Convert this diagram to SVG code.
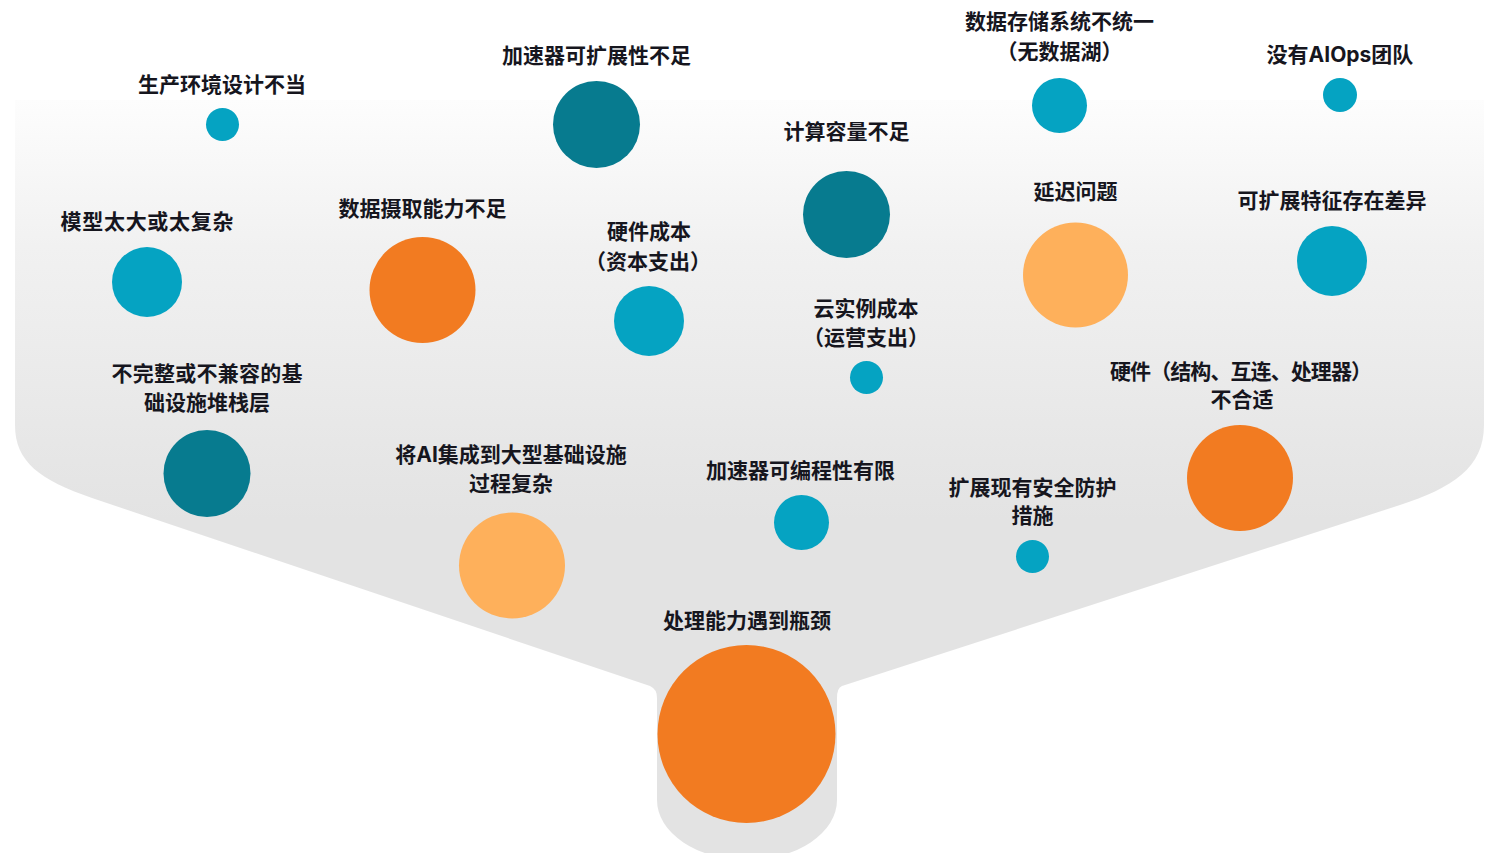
<svg xmlns="http://www.w3.org/2000/svg" width="1492" height="853" viewBox="0 0 1492 853">
  <defs>
    <linearGradient id="funnelGrad" gradientUnits="userSpaceOnUse" x1="0" y1="100" x2="0" y2="520">
      <stop offset="0" stop-color="#fdfdfd"/>
      <stop offset="0.35" stop-color="#f1f1f1"/>
      <stop offset="1" stop-color="#e3e3e3"/>
    </linearGradient>
    <style>
      .lbl { font-family: Inter, "Noto Sans CJK SC", sans-serif; font-weight: 700; font-size: 21px; fill: #16161e; text-anchor: middle; }
      .teal { fill: #05a3c2; }
      .dteal { fill: #077b8f; }
      .orange { fill: #f27b21; }
      .lorange { fill: #feb05b; }
    </style>
  </defs>
  <rect width="1492" height="853" fill="#ffffff"/>
  <g id="funnel">
    <path d="M 15 100 H 1484 V 425 C 1484 468 1452 488 1400 505 L 842 686 Q 837 688 837 698 V 800 A 90 60 0 0 1 657 800 V 698 Q 657 689 650 686 L 92 498 C 40 480 15 462 15 425 Z" fill="url(#funnelGrad)"/>
  </g>
  <g id="connectors"/>
  <g id="n1">
    <text class="lbl" x="222" y="92">生产环境设计不当</text>
    <circle class="teal" cx="222.5" cy="124.5" r="16.5"/>
  </g>
  <g id="n2">
    <text class="lbl" x="596.5" y="63">加速器可扩展性不足</text>
    <circle class="dteal" cx="596.5" cy="124.5" r="43.5"/>
  </g>
  <g id="n3">
    <text class="lbl" x="1059.5" y="29">数据存储系统不统一</text>
    <text class="lbl" x="1059.5" y="59">（无数据湖）</text>
    <circle class="teal" cx="1059.5" cy="105.5" r="27.5"/>
  </g>
  <g id="n4">
    <text class="lbl" x="1340" y="62">没有AIOps团队</text>
    <circle class="teal" cx="1340" cy="95" r="17"/>
  </g>
  <g id="n5">
    <text class="lbl" x="846.5" y="139">计算容量不足</text>
    <circle class="dteal" cx="846.5" cy="214.5" r="43.5"/>
  </g>
  <g id="n6">
    <text class="lbl" x="147" y="229" textLength="173" lengthAdjust="spacing">模型太大或太复杂</text>
    <circle class="teal" cx="147" cy="282" r="35"/>
  </g>
  <g id="n7">
    <text class="lbl" x="422.5" y="216">数据摄取能力不足</text>
    <circle class="orange" cx="422.5" cy="290" r="53"/>
  </g>
  <g id="n8">
    <text class="lbl" x="649" y="239">硬件成本</text>
    <text class="lbl" x="648" y="269">（资本支出）</text>
    <circle class="teal" cx="649" cy="321" r="35"/>
  </g>
  <g id="n9">
    <text class="lbl" x="1075.5" y="199">延迟问题</text>
    <circle class="lorange" cx="1075.5" cy="275" r="52.5"/>
  </g>
  <g id="n10">
    <text class="lbl" x="1332" y="208">可扩展特征存在差异</text>
    <circle class="teal" cx="1332" cy="261" r="35"/>
  </g>
  <g id="n11">
    <text class="lbl" x="866" y="316">云实例成本</text>
    <text class="lbl" x="866" y="345">（运营支出）</text>
    <circle class="teal" cx="866.5" cy="377.5" r="16.5"/>
  </g>
  <g id="n12">
    <text class="lbl" x="207" y="381" textLength="191" lengthAdjust="spacing">不完整或不兼容的基</text>
    <text class="lbl" x="207" y="410">础设施堆栈层</text>
    <circle class="dteal" cx="207" cy="473.5" r="43.5"/>
  </g>
  <g id="n13">
    <text class="lbl" x="1241" y="379" textLength="262" lengthAdjust="spacing">硬件（结构、互连、处理器）</text>
    <text class="lbl" x="1242" y="407">不合适</text>
    <circle class="orange" cx="1240" cy="478" r="53"/>
  </g>
  <g id="n14">
    <text class="lbl" x="511" y="462">将AI集成到大型基础设施</text>
    <text class="lbl" x="511" y="491">过程复杂</text>
    <circle class="lorange" cx="512" cy="565.5" r="53"/>
  </g>
  <g id="n15">
    <text class="lbl" x="800.5" y="478">加速器可编程性有限</text>
    <circle class="teal" cx="801.5" cy="522.5" r="27.5"/>
  </g>
  <g id="n16">
    <text class="lbl" x="1032.5" y="495">扩展现有安全防护</text>
    <text class="lbl" x="1032.5" y="523">措施</text>
    <circle class="teal" cx="1032.5" cy="556.5" r="16.5"/>
  </g>
  <g id="n17">
    <text class="lbl" x="747" y="628">处理能力遇到瓶颈</text>
    <circle class="orange" cx="746.5" cy="734" r="89"/>
  </g>
</svg>
